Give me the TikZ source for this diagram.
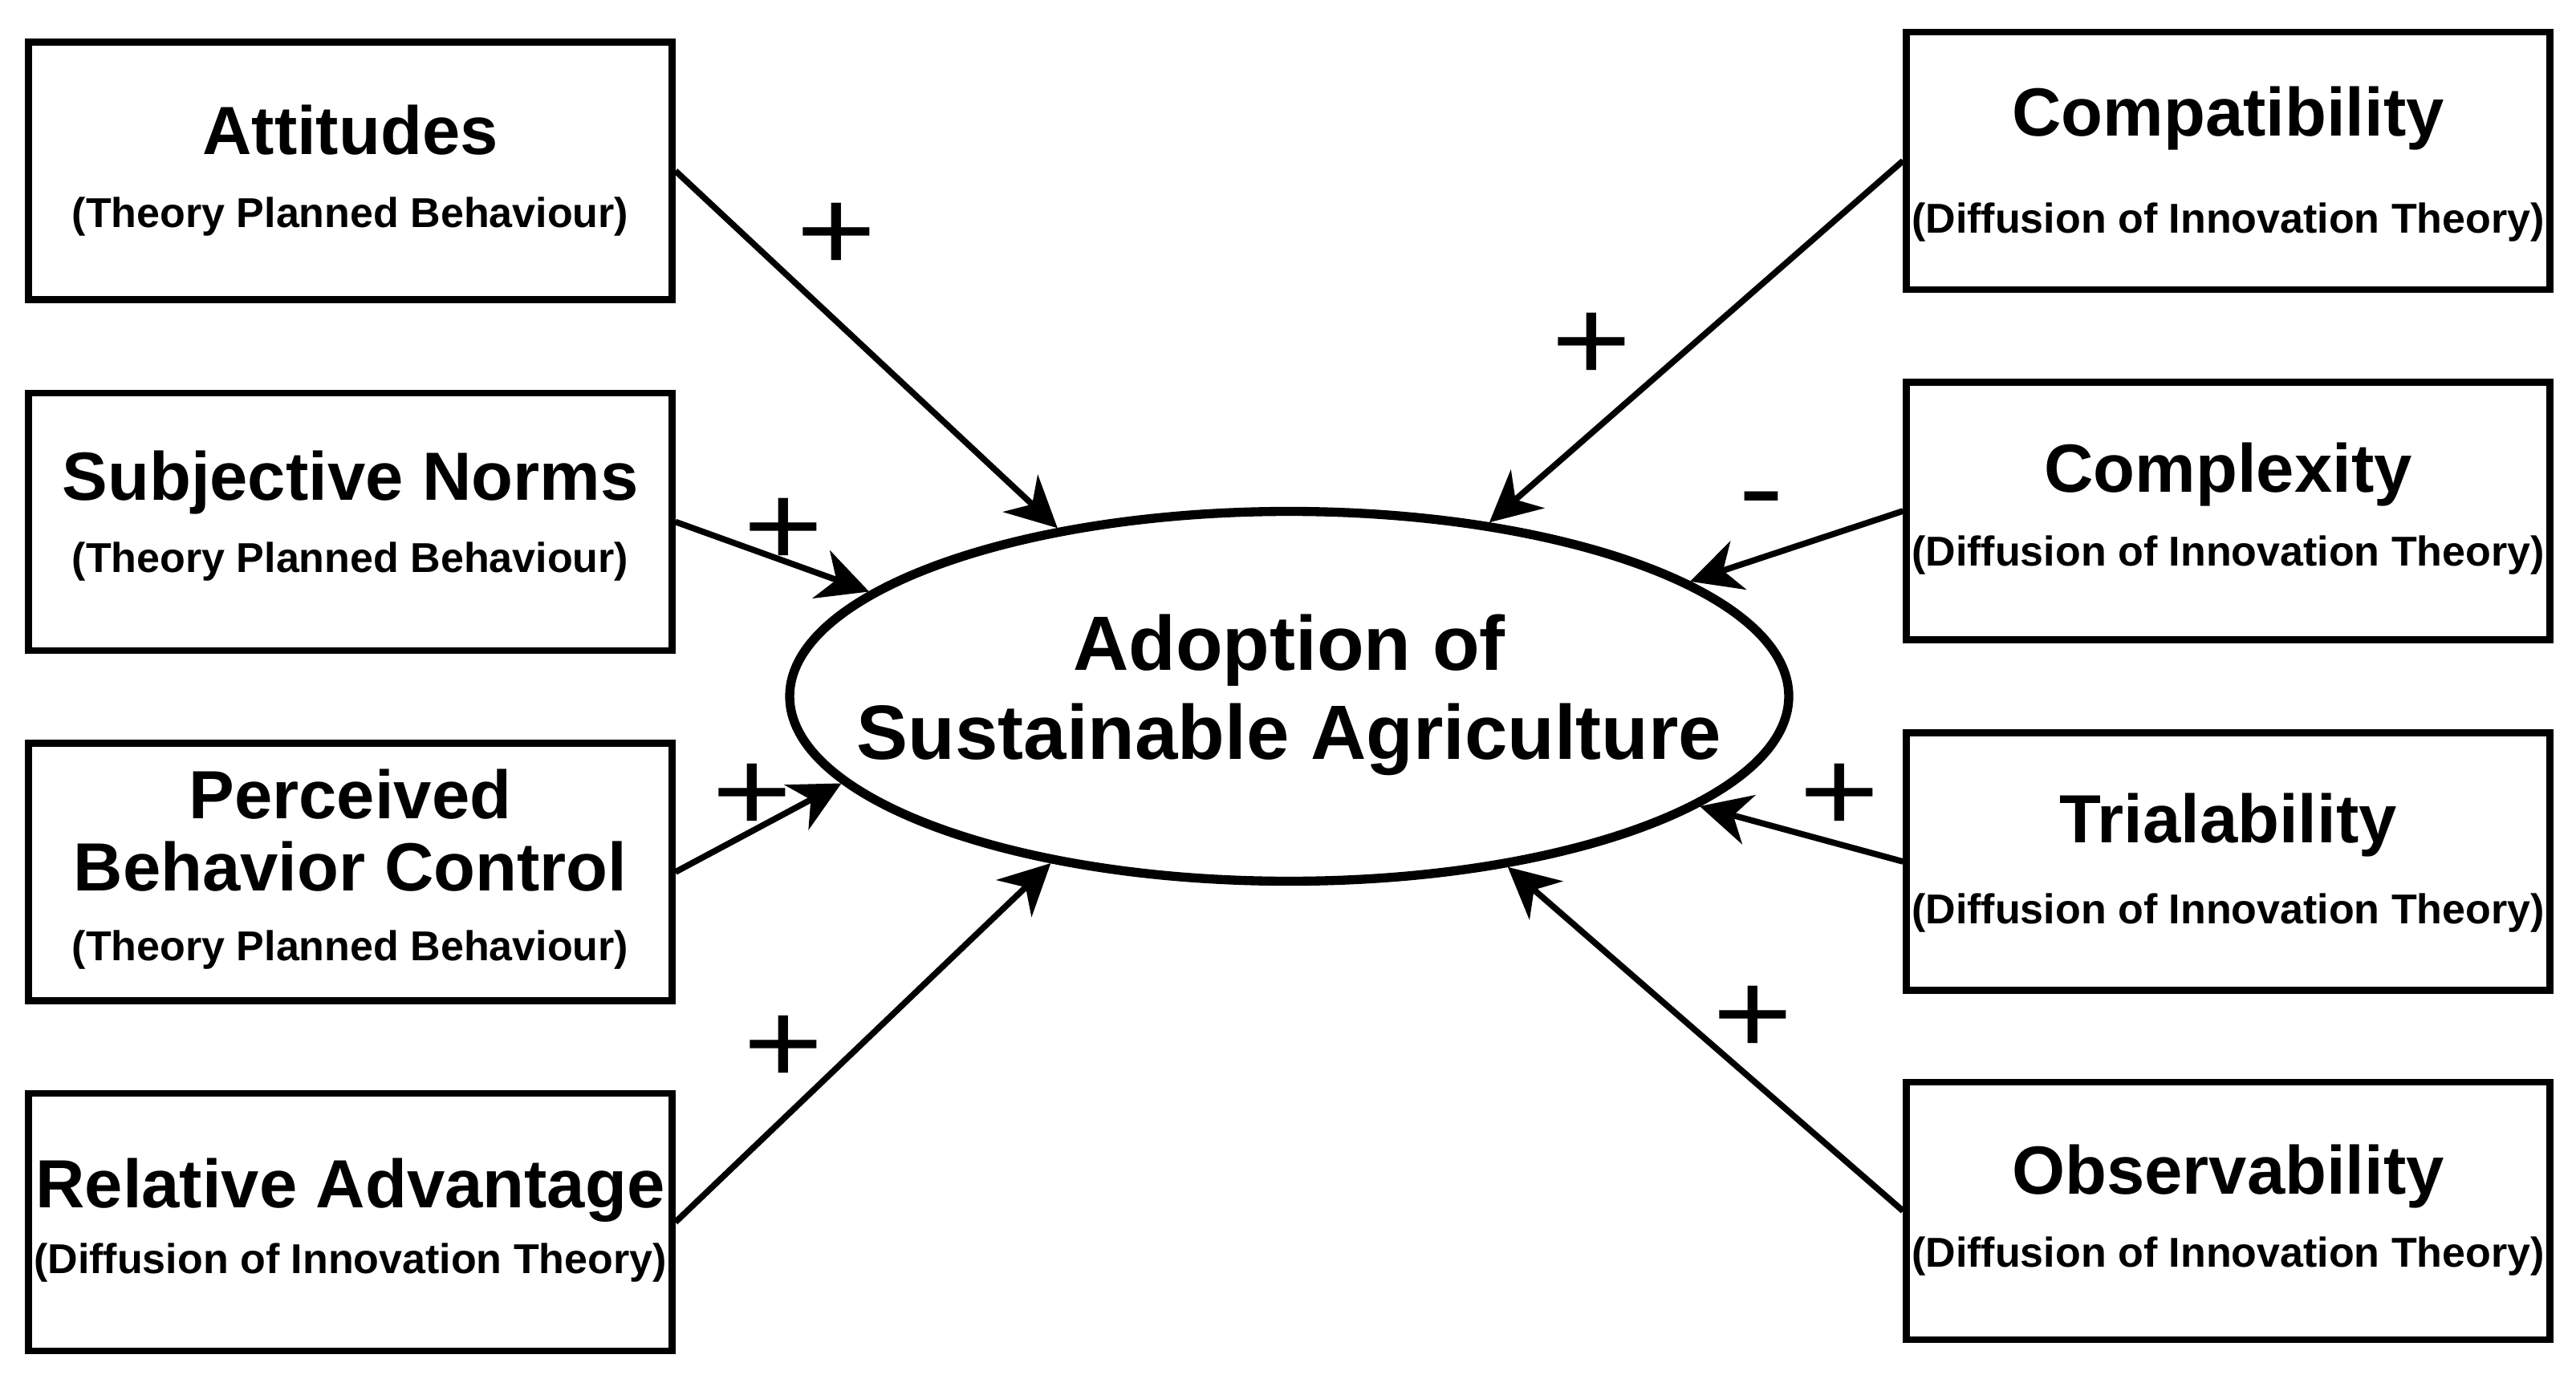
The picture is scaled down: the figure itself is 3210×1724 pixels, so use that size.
\documentclass[tikz,border=0pt]{standalone}
\usepackage{fontspec}
\setmainfont{Liberation Sans}
\usepackage{graphicx}
\usetikzlibrary{shapes.geometric,arrows.meta}
\begin{document}
\begin{tikzpicture}[x=0.3pt,y=-0.3pt,
  boxst/.style={draw, line width=2.5pt, minimum width=240.6pt, minimum height=96.3pt, inner sep=0pt},
  titlest/.style={font=\fontsize{25.5pt}{30pt}\selectfont\bfseries, inner sep=0pt, anchor=base},
  subst/.style={font=\fontsize{15.6pt}{18pt}\selectfont\bfseries, inner sep=0pt, anchor=base},
  centst/.style={font=\fontsize{28.8pt}{34pt}\selectfont\bfseries, inner sep=0pt, anchor=base},
  signst/.style={font=\fontsize{43.8pt}{50pt}\selectfont, inner sep=0pt, anchor=base},
  connst/.style={line width=2.3pt, -{Stealth[length=19pt, width=19pt, inset=6pt]}},
]
\useasboundingbox (0,0) rectangle (3210,1724);

% central ellipse
\node[ellipse, draw, line width=3.4pt, minimum width=373.5pt, minimum height=138.3pt, inner sep=0pt] (ado) at (1606.5,868) {};
\node[centst] (adoA) at (1606.5,835) {Adoption of};
\node[centst] (adoB) at (1606.5,946) {Sustainable Agriculture};

% left boxes
\node[boxst] (att) at (436.5,213) {};
\node[titlest] (attT) at (436.5,193) {Attitudes};
\node[subst] (attS) at (436.5,284) {(Theory Planned Behaviour)};

\node[boxst] (sn) at (436.5,650.5) {};
\node[titlest] (snT) at (436.5,624) {Subjective Norms};
\node[subst] (snS) at (436.5,713) {(Theory Planned Behaviour)};

\node[boxst] (pbc) at (436.5,1087) {};
\node[titlest] (pbcT1) at (436.5,1020) {Perceived};
\node[titlest] (pbcT2) at (436.5,1110) {Behavior Control};
\node[subst] (pbcS) at (436.5,1197) {(Theory Planned Behaviour)};

\node[boxst] (ra) at (436.5,1523.5) {};
\node[titlest] (raT) at (436.5,1505) {Relative Advantage};
\node[subst] (raS) at (436.5,1587) {(Diffusion of Innovation Theory)};

% right boxes
\node[boxst] (cmp) at (2776.5,200.5) {};
\node[titlest] (cmpT) at (2776.5,170) {Compatibility};
\node[subst] (cmpS) at (2776.5,291) {(Diffusion of Innovation Theory)};

\node[boxst] (cpx) at (2776.5,637) {};
\node[titlest] (cpxT) at (2776.5,614) {Complexity};
\node[subst] (cpxS) at (2776.5,705) {(Diffusion of Innovation Theory)};

\node[boxst] (tri) at (2776.5,1074) {};
\node[titlest] (triT) at (2776.5,1050) {Trialability};
\node[subst] (triS) at (2776.5,1151) {(Diffusion of Innovation Theory)};

\node[boxst] (obs) at (2776.5,1509.5) {};
\node[titlest] (obsT) at (2776.5,1488) {Observability};
\node[subst] (obsS) at (2776.5,1579) {(Diffusion of Innovation Theory)};

% connectors
\draw[connst] (att.east) -- (ado.144.9);
\draw[connst] (sn.east) -- (ado.166.3);
\draw[connst] (pbc.east) -- (ado.191.4);
\draw[connst] (ra.east) -- (ado.215.7);
\draw[connst] (cmp.west) -- (ado.41.4);
\draw[connst] (cpx.west) -- (ado.16.7);
\draw[connst] (tri.west) -- (ado.-15.3);
\draw[connst] (obs.west) -- (ado.-38.7);

% signs
\node[signst] (s1) at (1042.5,338) {\scalebox{1.17}[1]{+}};
\node[signst] (s2) at (976,705) {\scalebox{1.17}[1]{+}};
\node[signst] (s3) at (937.5,1036.5) {\scalebox{1.17}[1]{+}};
\node[signst] (s4) at (976.5,1350) {\scalebox{1.17}[1]{+}};
\node[signst] (s5) at (1983,475) {\scalebox{1.17}[1]{+}};
\node[signst] (s6) at (2195,658) {\scalebox{1.17}[1]{-}};
\node[signst] (s7) at (2292.5,1036.5) {\scalebox{1.17}[1]{+}};
\node[signst] (s8) at (2184.5,1313) {\scalebox{1.17}[1]{+}};
\end{tikzpicture}
\end{document}
